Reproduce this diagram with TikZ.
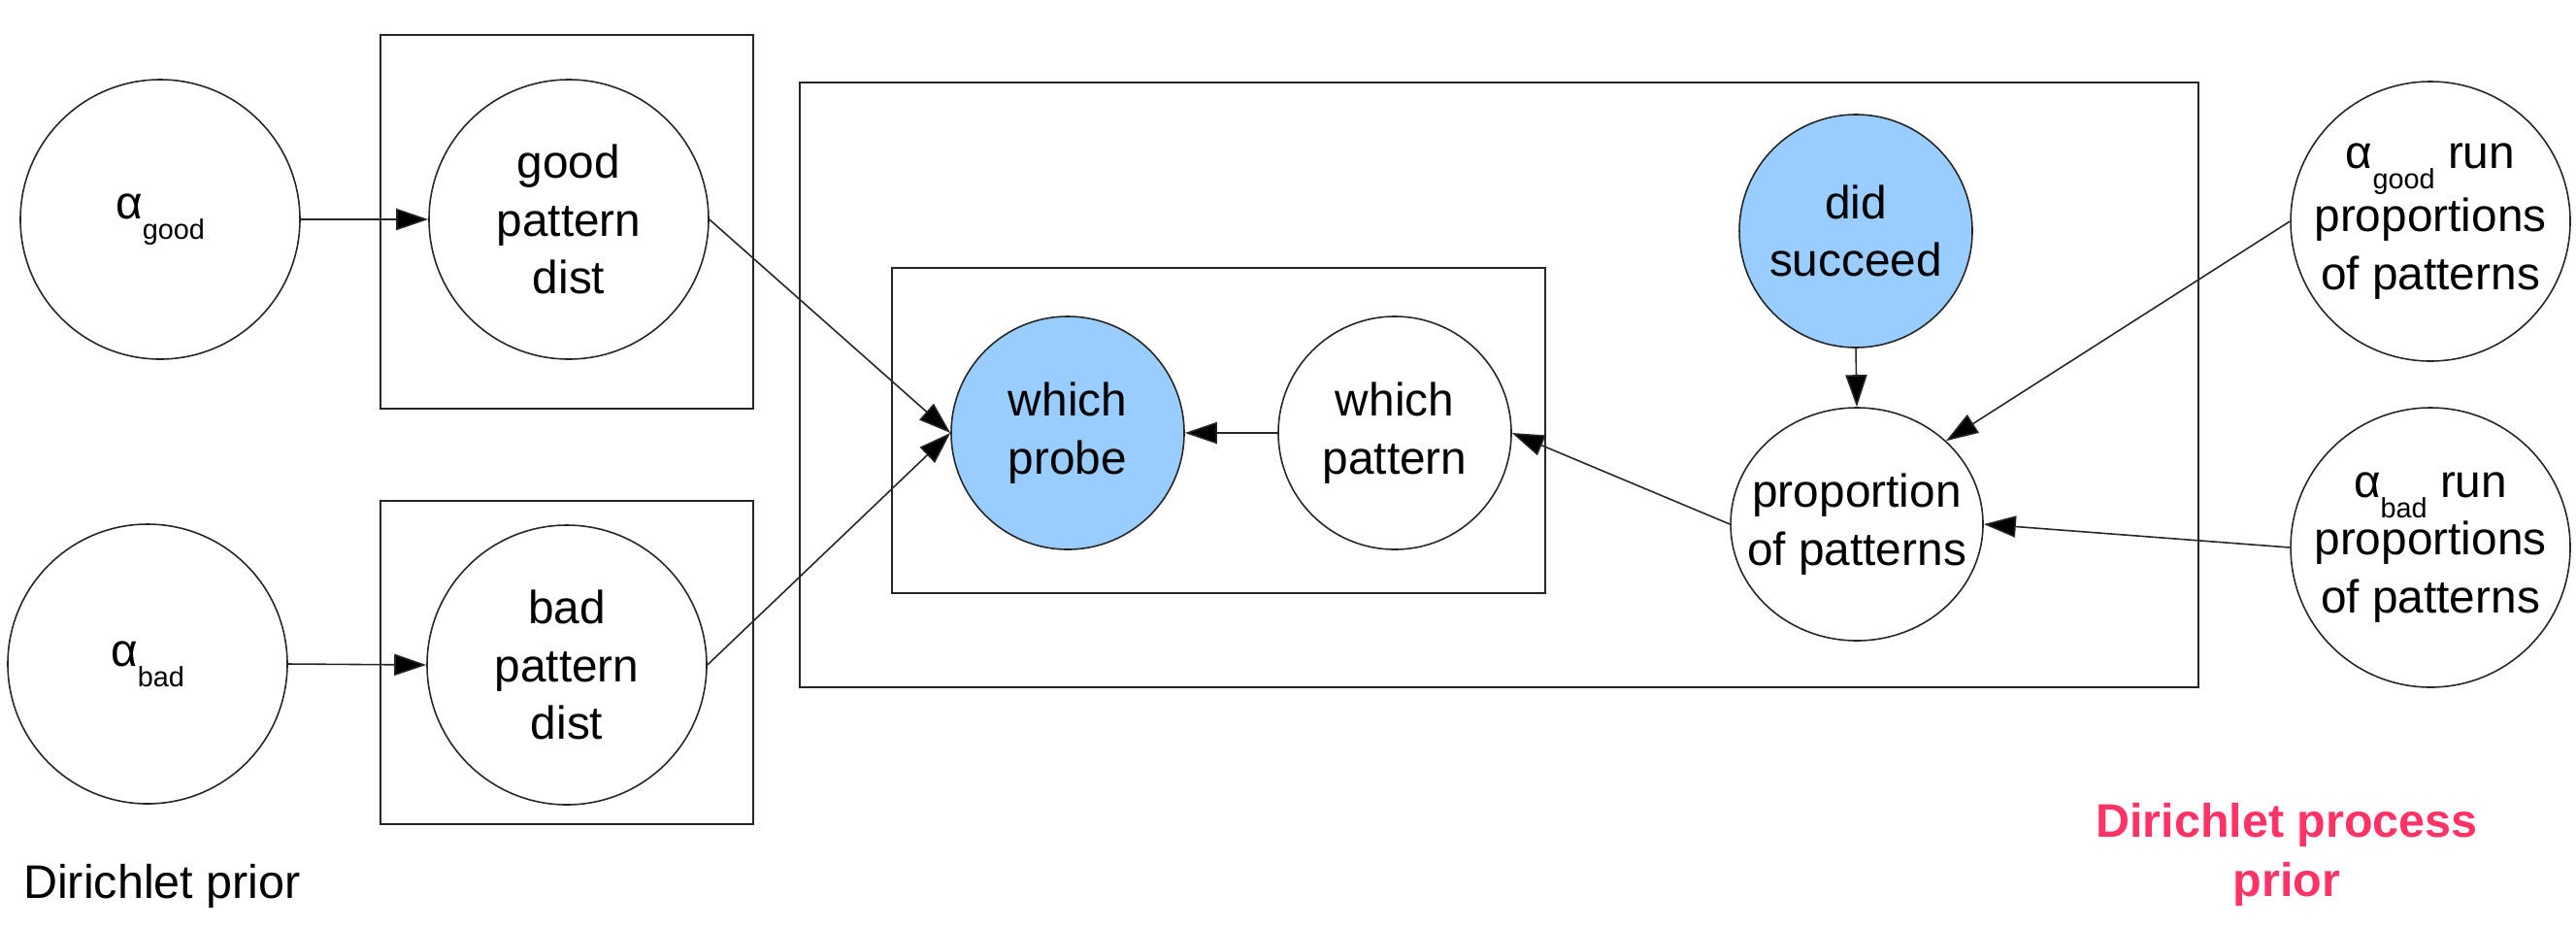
\documentclass[tikz,border=0pt]{standalone}
\usepackage{fontspec}
\setmainfont{Liberation Sans}
\usetikzlibrary{arrows.meta,shapes.geometric}
\definecolor{obsblue}{HTML}{99CCFF}
\definecolor{dppred}{HTML}{FF3366}
\newcommand{\asub}[1]{α\raisebox{-6pt}{\fontsize{8.2}{9}\selectfont #1}}
\tikzset{
  var/.style={ellipse, draw=black!85, line width=0.45pt, fill=white, inner sep=0pt,
    inner xsep=-0.6cm, align=center, font=\fontsize{13.6}{16.9}\selectfont},
  bigvar/.style={var, minimum width=2.88cm, minimum height=2.88cm},
  smallvar/.style={var, minimum width=2.4cm, minimum height=2.4cm},
  obs/.style={fill=obsblue},
  plate/.style={draw=black!85, line width=0.45pt},
  edge/.style={draw=black!85, line width=0.45pt, -{Triangle[length=9.4pt,width=6.3pt,fill=black]}},
  lbl/.style={font=\fontsize{13.8}{16.9}\selectfont, inner sep=0pt, anchor=base}
}
\begin{document}
\begin{tikzpicture}
\useasboundingbox (0,0) rectangle (26.54,-9.55);
% plates
\draw[plate] (3.92,-0.36) rectangle (7.76,-4.21);
\draw[plate] (3.92,-5.16) rectangle (7.76,-8.49);
\draw[plate] (8.24,-0.85) rectangle (22.65,-7.08);
\draw[plate] (9.19,-2.76) rectangle (15.92,-6.11);
% nodes
\node[bigvar] (agood) at (1.65,-2.26) {\asub{good}};
\node[bigvar] (gpd) at (5.86,-2.26) {good\\pattern\\dist};
\node[bigvar] (abad) at (1.52,-6.84) {\asub{bad}};
\node[bigvar] (bpd) at (5.84,-6.85) {bad\\pattern\\dist};
\node[smallvar, obs] (probe) at (11.00,-4.46) {which\\probe};
\node[smallvar] (pattern) at (14.37,-4.46) {which\\pattern};
\node[smallvar, obs] (succeed) at (19.12,-2.38) {did\\succeed};
\node[var, minimum width=2.6cm, minimum height=2.4cm] (prop) at (19.13,-5.40) {proportion\\of patterns};
\node[bigvar] (agr) at (25.04,-2.28) {\asub{good} run\\proportions\\of patterns};
\node[bigvar] (abr) at (25.04,-5.64) {\asub{bad} run\\proportions\\of patterns};
% labels
\node[lbl] (dp) at (1.67,-9.25) {Dirichlet prior};
\node[lbl, font=\fontsize{13.8}{16.9}\selectfont\bfseries, text=dppred] (dpp1) at (23.56,-8.62) {Dirichlet process};
\node[lbl, font=\fontsize{13.8}{16.9}\selectfont\bfseries, text=dppred] (dpp2) at (23.56,-9.23) {prior};
% edges
\draw[edge] (agood.east) -- (gpd.west);
\draw[edge] (abad.east) -- (bpd.west);
\draw[edge] (gpd.east) -- (probe.west);
\draw[edge] (bpd.east) -- (probe.west);
\draw[edge] (pattern.west) -- (probe.east);
\draw[edge] (prop.west) -- (pattern.east);
\draw[edge] (succeed.south) -- (prop.north);
\draw[edge] (agr.west) -- (prop.43);
\draw[edge] (abr.west) -- (prop.east);
\end{tikzpicture}
\end{document}
